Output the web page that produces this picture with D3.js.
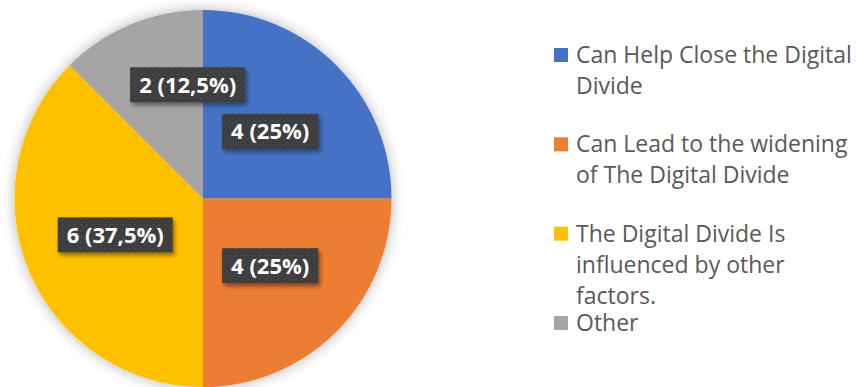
<!DOCTYPE html>
<html>
<head>
<meta charset="utf-8">
<script src="https://cdn.jsdelivr.net/npm/d3@7"></script>
<style>
  body { margin: 0; background: #fff; }
  svg { display: block; }
  .legend text { font-family: "Open Sans", sans-serif; font-size: 23px; fill: #595959; }
  .dlabel text { font-family: "Open Sans", sans-serif; font-size: 22px; font-weight: bold; fill: #fff; }
</style>
</head>
<body>
<svg id="chart" width="857" height="387"></svg>
<script>
// data
var categories = ["Can Help Close the Digital Divide", "Can Lead to the widening of The Digital Divide", "The Digital Divide Is influenced by other factors.", "Other"];
var legendLines = [["Can Help Close the Digital", "Divide"], ["Can Lead to the widening", "of The Digital Divide"], ["The Digital Divide Is", "influenced by other", "factors."], ["Other"]];
var values = [4, 4, 6, 2];
var colors = ["#4472C4", "#ED7D31", "#FFC000", "#A5A5A5"];

var svg = d3.select("#chart");
var cx = 203, cy = 198.5, radius = 188.5, labelR = 95;
// the small grey slice label sits off its centroid in the original
var labelNudge = { 3: [21, -26] };

var defs = svg.append("defs");
var glow = defs.append("filter").attr("id", "glow")
    .attr("x", "-20%").attr("y", "-20%").attr("width", "140%").attr("height", "140%");
glow.append("feGaussianBlur").attr("in", "SourceAlpha").attr("stdDeviation", 7).attr("result", "b");
glow.append("feComponentTransfer").attr("in", "b").attr("result", "s")
    .append("feFuncA").attr("type", "linear").attr("slope", 0.3);
var gm = glow.append("feMerge");
gm.append("feMergeNode").attr("in", "s");
gm.append("feMergeNode").attr("in", "SourceGraphic");

var boxShadow = defs.append("filter").attr("id", "boxshadow")
    .attr("x", "-20%").attr("y", "-30%").attr("width", "150%").attr("height", "170%");
boxShadow.append("feGaussianBlur").attr("in", "SourceAlpha").attr("stdDeviation", 2).attr("result", "b");
boxShadow.append("feOffset").attr("in", "b").attr("dx", 2).attr("dy", 3).attr("result", "o");
boxShadow.append("feComponentTransfer").attr("in", "o").attr("result", "s")
    .append("feFuncA").attr("type", "linear").attr("slope", 0.45);
var bm = boxShadow.append("feMerge");
bm.append("feMergeNode").attr("in", "s");
bm.append("feMergeNode").attr("in", "SourceGraphic");

var pat = defs.append("pattern").attr("id", "dots")
    .attr("patternUnits", "userSpaceOnUse").attr("width", 6).attr("height", 6);
pat.append("rect").attr("width", 6).attr("height", 6).attr("fill", "#3d3d3d");
pat.append("rect").attr("x", 1).attr("y", 1).attr("width", 1.5).attr("height", 1.5).attr("fill", "#555");
pat.append("rect").attr("x", 4).attr("y", 4).attr("width", 1.5).attr("height", 1.5).attr("fill", "#4c4c4c");

var pie = d3.pie().sort(null).value(function (d) { return d; });
var arcs = pie(values);
var arc = d3.arc().innerRadius(0).outerRadius(radius);
var labelArc = d3.arc().innerRadius(labelR).outerRadius(labelR);

var g = svg.append("g").attr("transform", "translate(" + cx + "," + cy + ")");
g.append("g").attr("filter", "url(#glow)")
    .selectAll("path")
    .data(arcs)
    .enter().append("path")
    .attr("d", arc)
    .attr("fill", function (d, i) { return colors[i]; });

var locale = d3.formatLocale({ decimal: ",", thousands: ".", grouping: [3], currency: ["", "€"] });
var fmt = locale.format(".1~f");
var total = d3.sum(values);

var labels = g.selectAll(".dlabel")
    .data(arcs)
    .enter().append("g")
    .classed("dlabel", true)
    .attr("transform", function (d, i) {
        var c = labelArc.centroid(d);
        var n = labelNudge[i] || [0, 0];
        return "translate(" + (c[0] + n[0]) + "," + (c[1] + n[1]) + ")";
    });
labels.append("rect").attr("filter", "url(#boxshadow)").attr("fill", "url(#dots)");
labels.append("text")
    .attr("text-anchor", "middle")
    .attr("dy", "0.36em")
    .text(function (d) { return d.value + " (" + fmt(d.value / total * 100) + "%)"; });
labels.each(function () {
    var t = d3.select(this).select("text").node().getBBox();
    d3.select(this).select("rect")
        .attr("x", t.x - 9).attr("y", -17.5)
        .attr("width", t.width + 18).attr("height", 35);
});

// legend
var ly = d3.scalePoint().domain(categories).range([63, 331]);
var legend = svg.append("g").classed("legend", true)
    .selectAll("g")
    .data(categories)
    .enter().append("g")
    .attr("transform", function (d) { return "translate(554," + ly(d) + ")"; });
legend.append("rect")
    .attr("x", 0).attr("y", -15).attr("width", 14).attr("height", 14)
    .attr("fill", function (d, i) { return colors[i]; });
legend.append("text")
    .attr("x", 22)
    .selectAll("tspan")
    .data(function (d, i) { return legendLines[i]; })
    .enter().append("tspan")
    .attr("x", 22)
    .attr("dy", function (d, i) { return i === 0 ? 0 : 31; })
    .text(function (d) { return d; });
</script>
</body>
</html>
